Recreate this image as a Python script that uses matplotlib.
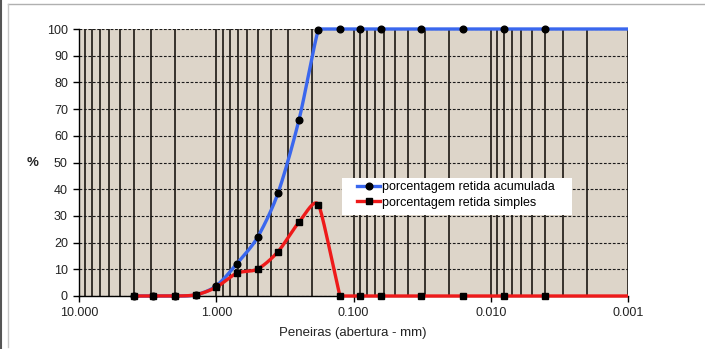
import numpy as np
import matplotlib
matplotlib.use("Agg")
import matplotlib.pyplot as plt
from matplotlib.lines import Line2D
from matplotlib.patches import Rectangle
from matplotlib.ticker import FixedLocator, FuncFormatter, LogLocator, NullFormatter

plt.rcParams['font.family'] = ['Liberation Sans', 'DejaVu Sans']

# ---- data ----
sieves = [4.0, 2.9, 2.0, 1.4, 1.0, 0.71, 0.5, 0.355, 0.25, 0.18, 0.125,
          0.09, 0.063, 0.032, 0.016, 0.008, 0.004]
retida_acumulada = [0, 0, 0, 0.5, 3.8, 12.0, 22.0, 38.5, 65.8, 99.7, 100,
                    100, 100, 100, 100, 100, 100]
retida_simples = [0, 0, 0, 0.5, 3.3, 8.5, 10.1, 16.6, 27.6, 34.2, 0,
                  0, 0, 0, 0, 0, 0]
x_ticks = [10, 1, 0.1, 0.01, 0.001]
y_ticks = [0, 10, 20, 30, 40, 50, 60, 70, 80, 90, 100]
label_acum = "porcentagem retida acumulada"
label_simp = "porcentagem retida simples"
x_label = "Peneiras (abertura - mm)"
y_label = "%"

XMAX, XMIN = 10, 0.001

W, H = 705, 349
fig = plt.figure(figsize=(W / 100, H / 100), dpi=100)
fig.patch.set_facecolor('white')

# outer frame
fig.add_artist(plt.Line2D([8 / W, 1], [1 - 4 / H, 1 - 4 / H], color='#b0b0b0', lw=1.0))
fig.add_artist(plt.Line2D([8 / W, 8 / W], [1 - 4 / H, 1 - 347 / H], color='#c8c8c8', lw=1.0))
fig.add_artist(plt.Line2D([0.5 / W, 0.5 / W], [0, 1], color='#555555', lw=1.5))

left, right, top, bottom = 79, 628, 29, 296
ax = fig.add_axes([left / W, 1 - bottom / H, (right - left) / W, (bottom - top) / H])
ax.set_facecolor('#ddd5c9')
ax.set_xscale('log')
ax.set_xlim(XMAX, XMIN)
ax.set_ylim(0, 100)

# grid
ax.xaxis.set_major_locator(FixedLocator(x_ticks))
ax.xaxis.set_minor_locator(LogLocator(base=10, subs=np.arange(2, 10)))
ax.xaxis.set_minor_formatter(NullFormatter())
ax.xaxis.set_major_formatter(FuncFormatter(lambda v, p: f"{v:.3f}"))
ax.set_yticks(y_ticks)
ax.grid(True, axis='x', which='both', color='#2a2520', lw=1.3, ls='-')
ax.grid(True, axis='y', which='major', color='#1a1a1a', lw=0.8, ls=(0, (2.5, 1.5)))
ax.set_axisbelow(True)

for s in ['top', 'right']:
    ax.spines[s].set_visible(False)
ax.spines['left'].set_color('#000000')
ax.spines['bottom'].set_color('#000000')
ax.spines['left'].set_linewidth(1.0)
ax.spines['bottom'].set_linewidth(1.0)
ax.tick_params(axis='both', which='major', direction='out', length=4, width=1.0,
               labelsize=9, colors='#000000', labelcolor='#222222')
ax.tick_params(axis='x', which='minor', length=0)
ax.tick_params(axis='x', pad=4)
ax.tick_params(axis='y', pad=4)


def smooth(xs, ys, n=40, k=0.33):
    # Bezier smoothing in screen-proportional space; control arm limited by
    # the shorter adjacent segment (keeps sharp turns nearly straight)
    sx = 137.25
    sy = 2.67
    u = -np.log10(np.asarray(xs, float)) * sx
    v = np.asarray(ys, float) * sy
    P = np.column_stack([u, v])
    m = len(P)
    T = np.zeros_like(P)
    for i in range(m):
        a = P[i - 1] if i > 0 else P[i]
        b = P[i + 1] if i < m - 1 else P[i]
        d = b - a
        nd = np.hypot(*d)
        if nd == 0:
            continue
        l0 = np.hypot(*(P[i] - a)) if i > 0 else np.inf
        l1 = np.hypot(*(b - P[i])) if i < m - 1 else np.inf
        L = min(l0, l1)
        T[i] = d / nd * L * k
    out = [P[0]]
    t = np.linspace(0, 1, n)[1:, None]
    for i in range(m - 1):
        p1, p2 = P[i], P[i + 1]
        c1 = p1 + T[i]
        c2 = p2 - T[i + 1]
        seg = ((1 - t) ** 3) * p1 + 3 * ((1 - t) ** 2) * t * c1 + 3 * (1 - t) * t ** 2 * c2 + t ** 3 * p2
        out.extend(seg)
    out = np.array(out)
    return 10 ** (-out[:, 0] / sx), out[:, 1] / sy


blue = '#3a67ee'
red = '#ee1a1a'

xs_ext = sieves + [XMIN]
bx, by = smooth(xs_ext, retida_acumulada + [retida_acumulada[-1]])
rx, ry = smooth(xs_ext, retida_simples + [retida_simples[-1]])
by = np.clip(by, 0, 100)
ry = np.clip(ry, 0, 100)

ax.plot(bx, by, color=blue, lw=2.4, solid_capstyle='butt', zorder=3, clip_on=False)
ax.plot(sieves, retida_acumulada, ls='none', marker='o', ms=4.8, color='black', zorder=4, clip_on=False)
ax.plot(rx, ry, color=red, lw=2.4, solid_capstyle='butt', solid_joinstyle='miter', zorder=5, clip_on=False)
ax.plot(sieves, retida_simples, ls='none', marker='s', ms=5.0, color='black', zorder=6, clip_on=False)

# legend box
def px2ax(px, py):
    return (px - left) / (right - left), (bottom - py) / (bottom - top)

bx0, by0 = px2ax(342, 215)
bx1, by1 = px2ax(572, 178)
ax.add_patch(Rectangle((bx0, by0), bx1 - bx0, by1 - by0, transform=ax.transAxes,
                       facecolor='white', edgecolor='none', zorder=9))

handles = [
    Line2D([], [], color=blue, lw=2.4, marker='o', ms=4.8, mfc='black', mec='black'),
    Line2D([], [], color=red, lw=2.4, marker='s', ms=5.0, mfc='black', mec='black'),
]
leg = ax.legend(handles, [label_acum, label_simp], loc='upper left',
                bbox_to_anchor=px2ax(357, 181),
                frameon=False, fontsize=9.0, handlelength=1.85, handletextpad=0.12,
                labelspacing=0.3, borderpad=0, borderaxespad=0)
leg.set_zorder(10)

fig.text(353 / W, 1 - 333 / H, x_label, ha='center', va='center', fontsize=9.5, color='#222222')
fig.text(33 / W, 1 - 163 / H, y_label, ha='center', va='center', fontsize=9.5,
         color='#222222', fontweight='bold')

fig.savefig('out.png', dpi=100)
